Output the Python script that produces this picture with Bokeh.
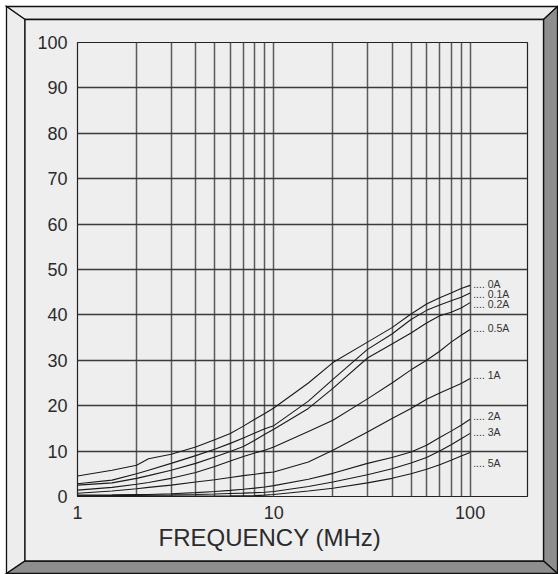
from urllib.parse import quote
from bokeh.plotting import figure
from bokeh.models import FixedTicker, Range1d, Title, ColumnDataSource
from bokeh.embed import file_html
from bokeh.resources import INLINE
from bokeh.core.properties import value

# ---------------- data ----------------
freq = [1, 1.5, 2, 2.3, 3, 4, 5, 6, 7, 8, 9, 10, 15, 20, 30, 40, 50, 60, 70, 80, 90, 100]

il_0A   = [4.5, 5.8, 6.9, 8.3, 9.3, 10.9, 12.5, 13.9, 15.5, 17.0, 18.3, 19.5, 25.0, 29.5, 34.0, 37.2, 40.2, 42.4, 43.8, 44.8, 45.8, 46.5]
il_01A  = [2.8, 3.6, 5.0, 5.8, 7.3, 9.0, 10.4, 11.7, 12.9, 14.0, 14.9, 15.6, 21.0, 25.8, 32.4, 35.8, 39.0, 41.0, 42.2, 43.1, 43.9, 44.8]
il_02A  = [2.5, 3.0, 4.0, 4.6, 5.8, 7.3, 8.7, 9.9, 11.0, 12.4, 13.7, 14.8, 19.4, 23.8, 30.5, 33.6, 36.0, 38.2, 39.8, 40.6, 41.5, 42.7]
il_05A  = [1.4, 2.0, 2.7, 3.1, 4.0, 5.3, 6.6, 7.8, 8.8, 9.6, 10.2, 10.9, 14.3, 16.8, 21.5, 25.0, 27.9, 30.0, 32.0, 34.0, 35.5, 36.8]
il_1A   = [0.7, 1.2, 1.7, 2.0, 2.5, 3.2, 3.7, 4.2, 4.6, 4.9, 5.2, 5.4, 7.6, 10.2, 14.2, 17.2, 19.4, 21.4, 22.8, 23.9, 24.9, 26.0]
il_2A   = [0.3, 0.35, 0.42, 0.45, 0.6, 0.85, 1.1, 1.35, 1.6, 1.85, 2.1, 2.4, 3.8, 5.1, 7.3, 8.6, 9.8, 11.3, 13.0, 14.4, 15.7, 17.0]
il_3A   = [0.15, 0.2, 0.25, 0.28, 0.35, 0.45, 0.55, 0.65, 0.75, 0.85, 0.95, 1.1, 2.2, 3.2, 4.8, 6.1, 7.4, 8.6, 10.0, 11.4, 12.7, 13.9]
il_5A   = [0.05, 0.06, 0.07, 0.08, 0.09, 0.1, 0.12, 0.14, 0.17, 0.2, 0.3, 0.45, 1.2, 1.8, 3.0, 4.0, 5.0, 6.0, 7.0, 8.0, 8.9, 9.7]

series = [il_0A, il_01A, il_02A, il_05A, il_1A, il_2A, il_3A, il_5A]
series_names = ["0A", "0.1A", "0.2A", "0.5A", "1A", "2A", "3A", "5A"]
label_y = [46.9, 44.7, 42.5, 37.1, 26.8, 17.8, 14.2, 7.4]

y_ticks = [0, 10, 20, 30, 40, 50, 60, 70, 80, 90, 100]
x_major = [1, 10, 100]
x_minor = [2, 3, 4, 5, 6, 7, 8, 9, 20, 30, 40, 50, 60, 70, 80, 90]
x_labels = {1: "1", 10: "10", 100: "100"}
x_title = "FREQUENCY (MHz)"

# ---------------- styling ----------------
W, H = 558, 574
PANEL = "#EEEEEE"
LIGHT = "#EDEDED"
DARK = "#8E8E8E"
TXT = "#2b2b2b"
FONT = "Liberation Sans"

# bevelled frame drawn as the page background of the figure element
ox0, oy0, ox1, oy1 = 6.5, 6.5, 557.5, 573.5
ix0, iy0, ix1, iy1 = 25, 19.5, 543.5, 561
polys = [
    ([(ox0, oy0), (ox1, oy0), (ix1, iy0), (ix0, iy0)], LIGHT),
    ([(ox0, oy0), (ix0, iy0), (ix0, iy1), (ox0, oy1)], LIGHT),
    ([(ox1, oy0), (ox1, oy1), (ix1, iy1), (ix1, iy0)], DARK),
    ([(ox0, oy1), (ix0, iy1), (ix1, iy1), (ox1, oy1)], DARK),
    ([(ix0, iy0), (ix1, iy0), (ix1, iy1), (ix0, iy1)], PANEL),
]
svg_parts = [f"<svg xmlns='http://www.w3.org/2000/svg' width='{W}' height='{H}'>"]
for pts, col in polys:
    ptxt = " ".join(f"{x},{y}" for x, y in pts)
    svg_parts.append(f"<polygon points='{ptxt}' fill='{col}' stroke='#111111' stroke-width='1.3' stroke-linejoin='miter'/>")
svg_parts.append("</svg>")
bg_uri = "data:image/svg+xml," + quote("".join(svg_parts))

# ---------------- figure ----------------
p = figure(width=W, height=H, x_axis_type="log",
           x_range=Range1d(1, 196), y_range=Range1d(0, 100),
           output_backend="svg", toolbar_location=None,
           min_border_left=77, min_border_right=31,
           min_border_top=42, min_border_bottom=78)
p.styles = {"background-image": f'url("{bg_uri}")',
            "background-repeat": "no-repeat",
            "background-size": f"{W}px {H}px"}

p.background_fill_color = PANEL
p.border_fill_alpha = 0
p.outline_line_color = "#222222"
p.outline_line_width = 1.2

# axes
p.xaxis.ticker = FixedTicker(ticks=x_major, minor_ticks=x_minor)
p.xaxis.major_label_overrides = x_labels
p.yaxis.ticker = FixedTicker(ticks=y_ticks)
for ax in (p.xaxis[0], p.yaxis[0]):
    ax.axis_line_color = None
    ax.major_tick_line_color = None
    ax.minor_tick_line_color = None
    ax.major_tick_out = 0
    ax.major_tick_in = 0
    ax.major_label_text_font = FONT
    ax.major_label_text_font_size = "18px"
    ax.major_label_text_color = TXT
p.yaxis.major_label_standoff = 10
p.xaxis.major_label_standoff = 5

p.xgrid.grid_line_color = "#5a5a5a"
p.xgrid.grid_line_width = 1.5
p.xgrid.minor_grid_line_color = "#5a5a5a"
p.xgrid.minor_grid_line_width = 1.5
p.ygrid.grid_line_color = "#3a3a3a"
p.ygrid.grid_line_width = 1.3

# curves
for vals in series:
    p.line(freq, vals, line_color="#1a1a1a", line_width=1.1)

# curve labels
lab_src = ColumnDataSource(dict(
    x=[freq[-1]] * len(series_names),
    y=label_y,
    text=[".... " + n for n in series_names],
))
p.text(x="x", y="y", text="text", source=lab_src, x_offset=3,
       text_font=value(FONT), text_font_size="10.5px",
       text_baseline="middle", text_align="left", text_color="#333333")

# x-axis title (below the tick labels, shifted like the original)
p.add_layout(Title(text=x_title, align="left", offset=81, standoff=0,
                   text_font=FONT, text_font_size="24px", text_font_style="normal",
                   text_color=TXT), "below")

open("out.html", "w").write(file_html(p, INLINE))
